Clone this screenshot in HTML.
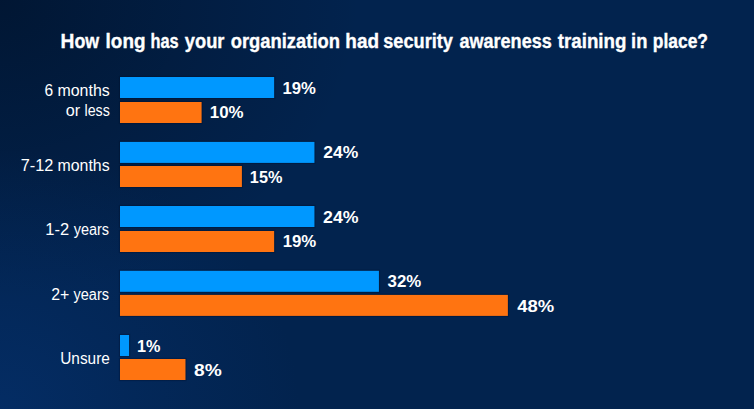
<!DOCTYPE html>
<html><head><meta charset="utf-8"><title>How long has your organization had security awareness training in place?</title>
<style>
html,body{margin:0;padding:0;width:754px;height:409px;overflow:hidden;background:#02234e;}
.wrap{position:relative;width:754px;height:409px;
background:radial-gradient(ellipse 300px 260px at 0px 409px, rgba(6,54,122,0.5) 0%, rgba(6,54,122,0.25) 45%, rgba(6,54,122,0) 100%),
radial-gradient(ellipse 360px 300px at 0px 0px, rgba(0,10,25,0.5) 0%, rgba(0,10,25,0) 100%), #02234e;}
svg{position:absolute;left:0;top:0;}
text{font-family:"Liberation Sans",Arial,sans-serif;fill:#ffffff;}
.t{font-weight:700;font-size:19.5px;stroke:#fff;stroke-width:0.35px;}
.v{font-weight:700;font-size:16px;}
.l{font-weight:400;font-size:16px;}
</style></head>
<body><div class="wrap">
<svg width="754" height="409" viewBox="0 0 754 409">
<g>
<text class="t" x="60.57" y="47.70" textLength="38.69" lengthAdjust="spacingAndGlyphs"><tspan style="font-size:21px">H</tspan>ow</text>
<text class="t" x="105.60" y="47.70" textLength="39.89" lengthAdjust="spacingAndGlyphs">long</text>
<text class="t" x="150.51" y="47.70" textLength="28.18" lengthAdjust="spacingAndGlyphs">has</text>
<text class="t" x="184.85" y="47.70" textLength="39.65" lengthAdjust="spacingAndGlyphs">your</text>
<text class="t" x="230.75" y="47.70" textLength="109.18" lengthAdjust="spacingAndGlyphs">organization</text>
<text class="t" x="345.34" y="47.70" textLength="33.65" lengthAdjust="spacingAndGlyphs">had</text>
<text class="t" x="383.26" y="47.70" textLength="69.73" lengthAdjust="spacingAndGlyphs">security</text>
<text class="t" x="459.42" y="47.70" textLength="92.39" lengthAdjust="spacingAndGlyphs">awareness</text>
<text class="t" x="557.79" y="47.70" textLength="68.62" lengthAdjust="spacingAndGlyphs">training</text>
<text class="t" x="631.06" y="47.70" textLength="16.31" lengthAdjust="spacingAndGlyphs">in</text>
<text class="t" x="652.81" y="47.70" textLength="55.21" lengthAdjust="spacingAndGlyphs">place?</text>
</g>
<g>
<rect x="120" y="77.00" width="154.14" height="21" fill="none" stroke="rgba(0,12,40,0.3)" stroke-width="2.2"/>
<rect x="120" y="102.00" width="81.60" height="21" fill="none" stroke="rgba(0,12,40,0.3)" stroke-width="2.2"/>
<rect x="120" y="77.00" width="154.14" height="21" fill="#0098ff"/>
<rect x="120" y="102.00" width="81.60" height="21" fill="#ff7411"/>
<rect x="120" y="141.90" width="194.44" height="21" fill="none" stroke="rgba(0,12,40,0.3)" stroke-width="2.2"/>
<rect x="120" y="166.00" width="121.90" height="21" fill="none" stroke="rgba(0,12,40,0.3)" stroke-width="2.2"/>
<rect x="120" y="141.90" width="194.44" height="21" fill="#0098ff"/>
<rect x="120" y="166.00" width="121.90" height="21" fill="#ff7411"/>
<rect x="120" y="206.00" width="194.44" height="21" fill="none" stroke="rgba(0,12,40,0.3)" stroke-width="2.2"/>
<rect x="120" y="231.00" width="154.14" height="21" fill="none" stroke="rgba(0,12,40,0.3)" stroke-width="2.2"/>
<rect x="120" y="206.00" width="194.44" height="21" fill="#0098ff"/>
<rect x="120" y="231.00" width="154.14" height="21" fill="#ff7411"/>
<rect x="120" y="270.80" width="258.92" height="21" fill="none" stroke="rgba(0,12,40,0.3)" stroke-width="2.2"/>
<rect x="120" y="294.90" width="387.88" height="21" fill="none" stroke="rgba(0,12,40,0.3)" stroke-width="2.2"/>
<rect x="120" y="270.80" width="258.92" height="21" fill="#0098ff"/>
<rect x="120" y="294.90" width="387.88" height="21" fill="#ff7411"/>
<rect x="120" y="335.00" width="9.06" height="21" fill="none" stroke="rgba(0,12,40,0.3)" stroke-width="2.2"/>
<rect x="120" y="359.00" width="65.48" height="21" fill="none" stroke="rgba(0,12,40,0.3)" stroke-width="2.2"/>
<rect x="120" y="335.00" width="9.06" height="21" fill="#0098ff"/>
<rect x="120" y="359.00" width="65.48" height="21" fill="#ff7411"/>
</g>
<g>
<text class="l" x="44.56" y="95.90" textLength="8.63" lengthAdjust="spacingAndGlyphs">6</text>
<text class="l" x="57.50" y="95.90" textLength="52.19" lengthAdjust="spacingAndGlyphs">months</text>
<text class="l" x="65.87" y="115.60" textLength="14.36" lengthAdjust="spacingAndGlyphs">or</text>
<text class="l" x="84.47" y="115.60" textLength="25.37" lengthAdjust="spacingAndGlyphs">less</text>
<text class="l" x="20.65" y="170.80" textLength="32.62" lengthAdjust="spacingAndGlyphs">7-12</text>
<text class="l" x="57.50" y="170.80" textLength="52.08" lengthAdjust="spacingAndGlyphs">months</text>
<text class="l" x="45.37" y="234.90" textLength="23.88" lengthAdjust="spacingAndGlyphs">1-2</text>
<text class="l" x="73.65" y="234.90" textLength="35.40" lengthAdjust="spacingAndGlyphs">years</text>
<text class="l" x="51.13" y="300.20" textLength="18.09" lengthAdjust="spacingAndGlyphs">2+</text>
<text class="l" x="73.51" y="300.20" textLength="35.54" lengthAdjust="spacingAndGlyphs">years</text>
<text class="l" x="60.27" y="363.60" textLength="49.55" lengthAdjust="spacingAndGlyphs">Unsure</text>
</g>
<g>
<text class="v" x="282.42" y="94.10" textLength="33.39" lengthAdjust="spacingAndGlyphs">19%</text>
<text class="v" x="209.84" y="117.50" textLength="33.79" lengthAdjust="spacingAndGlyphs">10%</text>
<text class="v" x="323.33" y="157.50" textLength="34.97" lengthAdjust="spacingAndGlyphs">24%</text>
<text class="v" x="249.89" y="182.90" textLength="32.46" lengthAdjust="spacingAndGlyphs">15%</text>
<text class="v" x="323.14" y="223.00" textLength="35.48" lengthAdjust="spacingAndGlyphs">24%</text>
<text class="v" x="282.69" y="246.90" textLength="33.59" lengthAdjust="spacingAndGlyphs">19%</text>
<text class="v" x="387.57" y="286.80" textLength="33.68" lengthAdjust="spacingAndGlyphs">32%</text>
<text class="v" x="517.31" y="311.70" textLength="36.95" lengthAdjust="spacingAndGlyphs">48%</text>
<text class="v" x="137.12" y="352.10" textLength="23.41" lengthAdjust="spacingAndGlyphs">1%</text>
<text class="v" x="194.09" y="376.00" textLength="27.69" lengthAdjust="spacingAndGlyphs">8%</text>
</g>
</svg></div></body></html>
